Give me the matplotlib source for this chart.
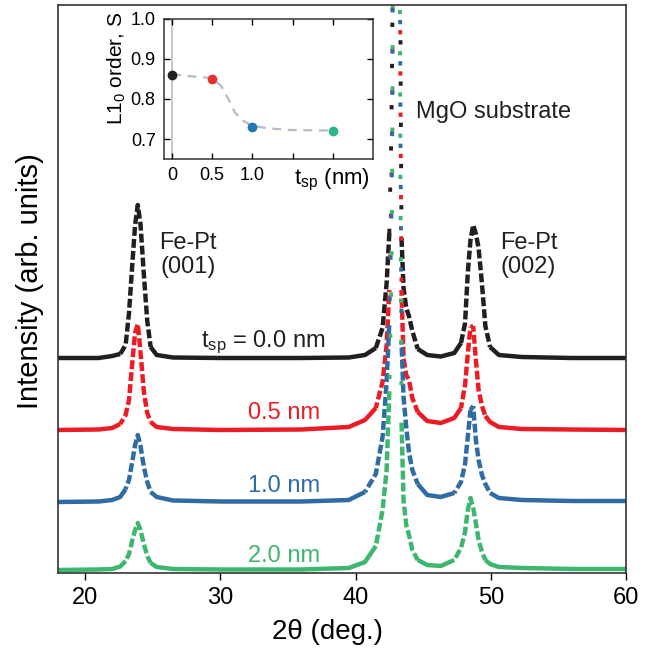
import numpy as np
import matplotlib.pyplot as plt

plt.rcParams['font.family'] = ['Liberation Sans', 'DejaVu Sans']
plt.rcParams['mathtext.default'] = 'regular'

# XRD scans, heights above each curve's own baseline (arb. units)
two_theta = [18.0, 21.0, 22.0, 22.6, 23.0, 23.25, 23.5, 23.7, 23.9, 24.1,
             24.35, 24.6, 24.85, 25.3, 26.5, 30.0, 36.0, 39.5, 40.7, 41.5,
             42.0, 42.3, 42.5, 42.65, 42.72, 43.0, 43.32, 43.4, 43.55, 43.75,
             43.95, 44.2, 44.6, 45.3, 46.3, 47.3, 47.8, 48.1, 48.3, 48.5,
             48.7, 48.9, 49.1, 49.35, 49.6, 49.95, 50.6, 52.3, 56.0, 60.0]
int_00 = [0, 0, 2, 4, 13, 45, 95, 133, 153, 134,
          83, 37, 11, 3, 0.5, 0, 0, 0.5, 3, 10,
          30, 75, 125, 225, 325, 1900, 325, 120, 70, 50,
          42, 27, 9, 3, 1.5, 5, 15, 35, 85, 118,
          133, 124, 110, 74, 32, 11, 3, 1, 0, 0]
int_05 = [0, 0.5, 2, 6, 15, 30, 68, 97, 106, 78,
          38, 17, 8, 3, 1, 0, 0.5, 3, 10, 22,
          48, 85, 140, 240, 340, 1900, 340, 140, 72, 55,
          50, 32, 18, 9, 7, 12, 22, 45, 76, 103,
          104, 70, 40, 24, 14, 8, 3, 1, 0.5, 0]
int_10 = [0, 0.5, 2, 5, 13, 22, 41, 57, 67, 56,
          35, 20, 10, 5, 1.5, 0.5, 0.5, 2, 10, 28,
          65, 120, 180, 280, 380, 1900, 380, 160, 105, 75,
          50, 32, 18, 7, 5, 9, 20, 38, 65, 92,
          96, 62, 42, 27, 18, 9, 4, 2, 1, 1]
int_20 = [0, 0.5, 1, 3.5, 9, 16, 30, 40, 47, 40,
          26, 14, 7, 3, 1, 0.5, 0.5, 2, 8, 24,
          60, 100, 180, 290, 400, 1900, 400, 150, 70, 45,
          35, 20, 10, 5, 4, 10, 22, 38, 60, 72,
          62, 47, 30, 18, 10, 6, 3, 2, 1, 1]
offsets = [212, 140, 68, 0]
labels = ['t$_{sp}$ = 0.0 nm', '0.5 nm', '1.0 nm', '2.0 nm']
colors = ['#231f20', '#ec1c24', '#2f6ca3', '#3db670']
label_pos = [(37.75, 223.3), (37.41, 150.7), (37.41, 78.3), (37.41, 7.7)]

# inset: L1_0 order vs spacer thickness
tsp = [0, 0.5, 1.0, 2.0]
order_s = [0.86, 0.85, 0.73, 0.72]
dot_colors = ['#231f20', '#e8312f', '#1f78b4', '#2bb68a']
guide_x = [0, 0.22, 0.5, 0.61, 0.7, 0.78, 0.88, 1.0, 1.18, 1.47, 2.0]
guide_y = [0.862, 0.857, 0.852, 0.833, 0.80, 0.767, 0.746, 0.733, 0.727, 0.7225, 0.721]

fig = plt.figure(figsize=(6.65, 6.51), dpi=100)
ax = fig.add_axes([58/665, 78/651, 568/665, 568/651])
ax.set_xlim(18, 60)
ax.set_ylim(-3, 565)

x = np.array(two_theta)
px_per_deg = 568 / 42.0
i0, i1 = two_theta.index(42.5), two_theta.index(43.4)


def seg_style(k, slope):
    # scan points look solid on flat parts, dashed on flanks, dotted on the MgO peak
    if i0 <= k < i1:
        return 'dot'
    return 'dash' if slope > 1.6 else 'solid'


curves = [int_00, int_05, int_10, int_20]
for i, c in enumerate(curves):
    y = np.array(c, dtype=float) + offsets[i]
    slopes = np.abs(np.diff(y)) / (np.diff(x) * px_per_deg)
    styles = [seg_style(k, s) for k, s in enumerate(slopes)]
    start = 0
    for k in range(1, len(styles) + 1):
        if k == len(styles) or styles[k] != styles[start]:
            xs, ys = x[start:k + 1], y[start:k + 1]
            st = styles[start]
            if st == 'solid':
                ax.plot(xs, ys, color=colors[i], lw=3.2, solid_capstyle='butt')
            elif st == 'dash':
                ax.plot(xs, ys, color=colors[i], lw=3.2,
                        linestyle=(i * 0.7, (2.0, 0.7)), dash_capstyle='butt')
            else:
                ax.plot(xs, ys, color=colors[i], lw=2.8,
                        linestyle=(i * 2.6, (1.1, 9.5)), dash_capstyle='butt')
            start = k
    ax.text(label_pos[i][0], label_pos[i][1], labels[i], color=colors[i],
            fontsize=17, ha='right', va='baseline')

ax.text(27.6, 315, 'Fe-Pt\n(001)', fontsize=17, ha='center', va='center',
        linespacing=1.1, color='#231f20')
ax.text(52.8, 315, 'Fe-Pt\n(002)', fontsize=17, ha='center', va='center',
        linespacing=1.1, color='#231f20')
ax.text(44.45, 458, 'MgO substrate', fontsize=17, ha='left', va='center',
        color='#231f20')

ax.set_xticks([20, 30, 40, 50, 60])
ax.set_yticks([])
ax.tick_params(axis='x', direction='out', length=5, width=1, labelsize=17, pad=5)
for s in ax.spines.values():
    s.set_linewidth(1.2)
    s.set_color('#333333')

fig.text(327/665, 1 - 632/651, '2\u03b8 (deg.)', fontsize=20, ha='center', va='center')
fig.text(29.5/665, 1 - 281/651, 'Intensity (arb. units)', fontsize=21,
         rotation=90, ha='center', va='center')

# inset
axi = fig.add_axes([164/665, 1 - 159/651, 209/665, 140/651])
axi.axvline(0, color='#b8bcc8', lw=1.2, zorder=1)
axi.plot(guide_x, guide_y, color='#b4bac6', lw=1.6, linestyle=(0, (4, 3)), zorder=2)
for i in range(len(tsp)):
    axi.plot(tsp[i], order_s[i], 'o', color=dot_colors[i], ms=6, zorder=3)
axi.set_xlim(-0.1, 2.5)
axi.set_ylim(0.65, 1.0)
axi.set_xticks([0, 0.5, 1.0, 1.5, 2.0])
axi.set_xticklabels(['0', '0.5', '1.0', '', ''])
axi.set_yticks([0.7, 0.8, 0.9, 1.0])
axi.set_yticklabels(['0.7', '0.8', '0.9', '1.0'])
axi.tick_params(direction='in', top=True, right=True, length=4, width=1, labelsize=13, pad=6)
for s in axi.spines.values():
    s.set_linewidth(1.1)
    s.set_color('#333333')
fig.text(331.7/665, 1 - 180/651, 't$_{sp}$ (nm)', fontsize=16, ha='center', va='center')
fig.text(116.5/665, 1 - 68/651, 'L1$_0$ order, S', fontsize=15, rotation=90,
         ha='center', va='center')

fig.savefig('out.png', dpi=100)
